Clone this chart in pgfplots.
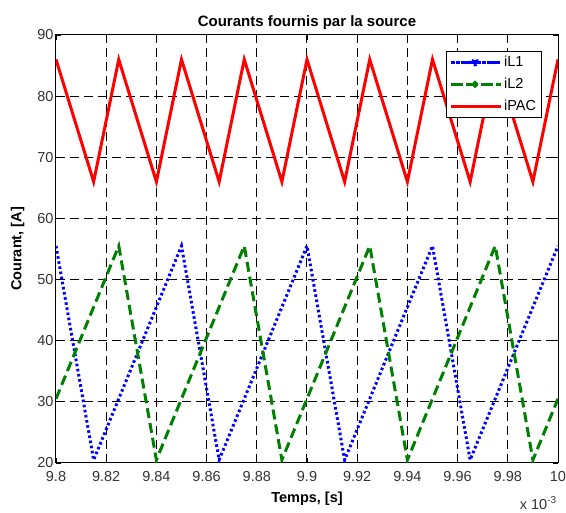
\documentclass[border=0pt]{standalone}
\usepackage{pgfplots}
\pgfplotsset{compat=1.18}
\usepackage{fontspec}
\setmainfont{Liberation Sans}
\definecolor{mblue}{RGB}{0,0,255}
\definecolor{mgreen}{RGB}{0,128,0}
\definecolor{mred}{RGB}{255,0,0}
\begin{document}
\begin{tikzpicture}
\path[use as bounding box] (-56pt,-50pt) rectangle (510pt,463pt);
\begin{axis}[
  at={(0,0)}, anchor=south west,
  scale only axis,
  width=502pt, height=428pt,
  xmin=9.8, xmax=10, ymin=20, ymax=90,
  xtick={9.8,9.82,9.84,9.86,9.88,9.9,9.92,9.94,9.96,9.98,10},
  xticklabels={9.8,9.82,9.84,9.86,9.88,9.9,9.92,9.94,9.96,9.98,10},
  ytick={20,30,40,50,60,70,80,90},
  tick align=inside,
  major tick length=5pt,
  tick style={black, line width=0.8pt},
  xmajorgrids, ymajorgrids,
  grid style={black, line width=1pt, dash pattern=on 9pt off 5pt},
  axis line style={black, line width=1pt},
  /pgf/number format/assume math mode=true,
  tick label style={font=\fontsize{14.5}{16}\selectfont, text=black!80},
  xticklabel style={yshift=-5pt},
  yticklabel style={xshift=1pt},
  title={\textbf{Courants fournis par la source}},
  title style={font=\fontsize{15}{17}\selectfont, yshift=-4pt},
  xlabel={\textbf{Temps, [s]}},
  ylabel={\textbf{Courant, [A]}},
  label style={font=\fontsize{14.5}{16}\selectfont},
  xlabel style={yshift=-3pt},
  ylabel style={yshift=6pt},
  legend style={at={(0.776,0.963)}, anchor=north west, draw=black, line width=1pt,
    font=\fontsize{14.5}{16}\selectfont, row sep=6pt, inner sep=3pt,
    cells={anchor=west}},
  legend cell align=left,
  clip=true,
]
\addplot[mblue, line width=3pt, line cap=butt, dash pattern=on 2.6pt off 2.6pt,
  legend image code/.code={\path (0pt,0pt) -- (50pt,0pt); \draw[mblue, line width=3pt, line cap=butt, dash pattern=on 2.6pt off 2.6pt] (2pt,0pt) -- (47pt,0pt); \fill[mblue] (24.5pt,0pt) circle (2.5pt);}] coordinates {
(9.800,55.5) (9.815,20.5) (9.850,55.5) (9.865,20.5) (9.900,55.5) (9.915,20.5) (9.950,55.5) (9.965,20.5) (10.000,55.5)};
\addlegendentry{iL1}
\addplot[mgreen, line width=3pt, dash pattern=on 10pt off 5pt,
  legend image code/.code={\path (0pt,0pt) -- (50pt,0pt); \draw[mgreen, line width=3pt, dash pattern=on 10pt off 5pt] (2pt,0pt) -- (47pt,0pt); \fill[mgreen] (24.5pt,0pt) circle (1.8pt);}] coordinates {
(9.800,30.5) (9.825,55.5) (9.840,20.5) (9.875,55.5) (9.890,20.5) (9.925,55.5) (9.940,20.5) (9.975,55.5) (9.990,20.5) (10.000,30.5)};
\addlegendentry{iL2}
\addplot[mred, line width=3pt,
  legend image code/.code={\path (0pt,0pt) -- (50pt,0pt); \draw[mred, line width=3pt] (2pt,0pt) -- (47pt,0pt);}] coordinates {
(9.800,86) (9.815,66) (9.825,86) (9.840,66) (9.850,86) (9.865,66) (9.875,86) (9.890,66) (9.900,86) (9.915,66) (9.925,86) (9.940,66) (9.950,86) (9.965,66) (9.975,86) (9.990,66) (10.000,86)};
\addlegendentry{iPAC}
\end{axis}
\node[anchor=base, font=\fontsize{14.5}{16}\selectfont, text=black!80] at (482pt,-47pt) {x 10\raisebox{0.8ex}{\fontsize{10}{11}\selectfont -3}};
\end{tikzpicture}
\end{document}
